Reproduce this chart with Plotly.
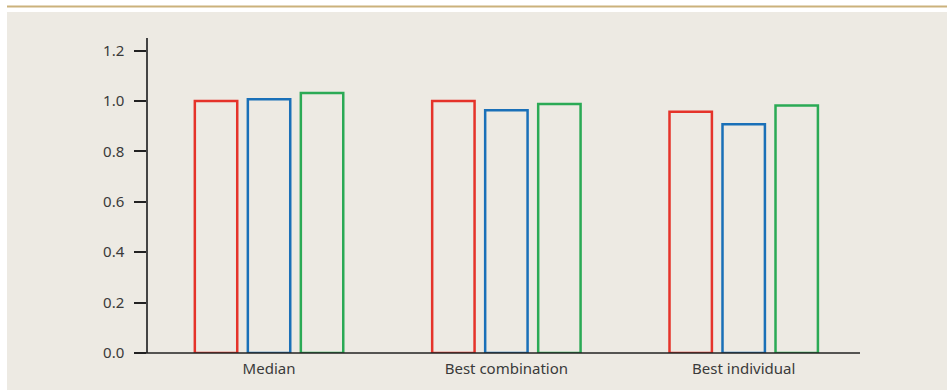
import plotly.graph_objects as go

categories = ["Median", "Best combination", "Best individual"]
series_names = ["Series A", "Series B", "Series C"]
red_values = [1.00, 1.00, 0.957]
blue_values = [1.007, 0.963, 0.908]
green_values = [1.032, 0.988, 0.982]
y_ticks = [0.0, 0.2, 0.4, 0.6, 0.8, 1.0, 1.2]

colors = ["#E5332A", "#1A70B8", "#2BAA55"]

fig = go.Figure()
for name, vals, c in zip(series_names, [red_values, blue_values, green_values], colors):
    fig.add_trace(go.Bar(
        x=categories, y=vals, name=name,
        marker=dict(color="rgba(0,0,0,0)", line=dict(color=c, width=2.5)),
        hoverinfo="x+y",
    ))

L, R, T, B = 148, 87, 38, 37
W, H = 947, 390
pw, ph = W - L - R, H - T - B

def px(x):
    return (x - L) / pw

def py(y):
    return (H - B - y) / ph

shapes = [
    dict(type="rect", xref="paper", yref="paper", x0=px(7), x1=px(947), y0=py(390), y1=py(12),
         fillcolor="#EDEAE3", line=dict(width=0), layer="below"),
    dict(type="line", xref="paper", yref="paper", x0=px(7), x1=px(947), y0=py(6.5), y1=py(6.5),
         line=dict(color="#CBB27C", width=2), layer="below"),
    dict(type="line", xref="paper", yref="paper", x0=px(136), x1=1, y0=0, y1=0,
         line=dict(color="#222222", width=1.5), layer="above"),
]

fig.update_layout(
    width=W, height=H,
    margin=dict(l=L, r=R, t=T, b=B, pad=0),
    paper_bgcolor="white", plot_bgcolor="rgba(0,0,0,0)",
    barmode="group", bargap=0.33, bargroupgap=0.2,
    showlegend=False,
    font=dict(family="Noto Sans", size=15, color="#3a3a3a"),
    shapes=shapes,
    xaxis=dict(showgrid=False, showline=False, ticks="", zeroline=False,
               range=[-0.51, 2.49],
               ticklabelstandoff=5,
               tickfont=dict(size=15, color="#3a3a3a")),
    yaxis=dict(range=[0, 1.25], tickvals=y_ticks, tickformat=".1f", showgrid=False,
               zeroline=False, showline=True, linecolor="#444444", linewidth=1.5,
               ticks="outside", ticklen=12, tickcolor="#222222", tickwidth=1.5,
               ticklabelstandoff=7,
               tickfont=dict(size=15, color="#3a3a3a")),
)

fig.write_html("out.html", config={"displayModeBar": False},
               post_script="document.body.style.margin='0';")
